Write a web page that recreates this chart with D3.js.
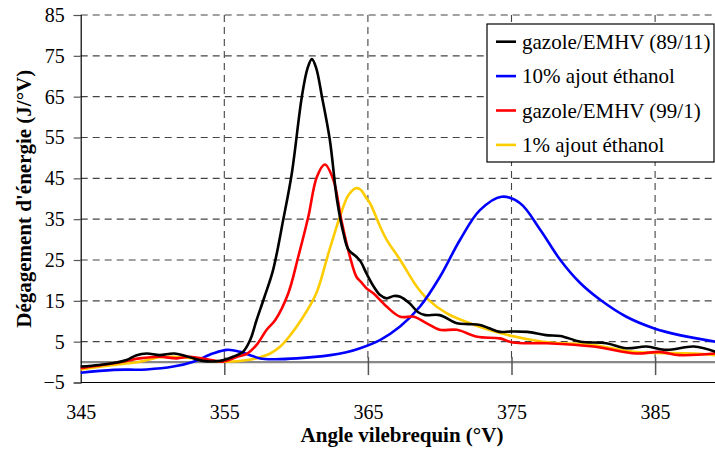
<!DOCTYPE html>
<html>
<head>
<meta charset="utf-8">
<script src="https://cdn.jsdelivr.net/npm/d3@7"></script>
<style>
  html, body { margin: 0; padding: 0; background: #fff; }
  svg { display: block; font-family: "Liberation Serif", "Times New Roman", serif; }
</style>
</head>
<body>
<svg id="chart" width="715" height="450"></svg>
<script>
// ---- Data ----
const seriesNames = ["gazole/EMHV (89/11)", "10% ajout éthanol", "gazole/EMHV (99/1)", "1% ajout éthanol"];
const seriesColors = ["#000000", "#0000FF", "#FF0000", "#FFCC00"];

const anglesBlack = [345, 346.3, 347.5, 348.2, 348.9, 349.6, 350.5, 351.5, 352.6, 353.5, 354.7, 355.6, 356.3, 356.8, 357.25, 357.8, 358.4, 359.1, 359.7, 360.4, 360.8, 361.1, 361.4, 361.8, 362.35, 362.85, 363.3, 363.65, 364.2, 364.5, 364.9, 365.4, 365.85, 366.3, 366.8, 367.25, 367.9, 368.5, 369.0, 370.0, 371.2, 372.0, 372.8, 373.5, 374.2, 375.0, 376.1, 377.4, 378.4, 379.8, 381.6, 383.0, 384.4, 385.8, 387.7, 389.2];
const valuesBlack = [-1.1, -0.7, -0.1, 0.5, 1.7, 2.1, 1.7, 2.1, 1.2, 0.3, 0.3, 1.3, 2.5, 5.4, 10.3, 16.0, 22.6, 34.8, 46.2, 65.0, 72.0, 74.2, 72.0, 65.0, 54.4, 39.7, 31.5, 27.5, 25.8, 24.6, 21.7, 18.5, 16.4, 15.6, 16.2, 16.0, 14.4, 12.2, 11.5, 11.5, 9.5, 9.3, 9.1, 8.2, 7.4, 7.5, 7.4, 6.6, 6.4, 5.0, 4.6, 3.4, 3.8, 3.0, 3.8, 2.5];

const anglesBlue = [345, 347.3, 349.6, 351.45, 352.85, 354.2, 355.2, 356.1, 356.8, 357.5, 358.4, 360.05, 362.4, 363.5, 364.46, 365.84, 367.24, 368.63, 370.02, 371.41, 372.8, 374.3, 375.6, 377.0, 378.4, 379.8, 381.2, 383.0, 384.9, 386.7, 389.2];
const valuesBlue = [-2.6, -1.9, -1.8, -1.1, 0.1, 2.1, 3.0, 2.5, 1.7, 0.9, 0.7, 0.9, 1.7, 2.4, 3.4, 5.4, 8.7, 13.6, 20.9, 29.9, 37.2, 40.5, 38.9, 32.4, 25.0, 19.3, 15.2, 11.1, 8.3, 6.6, 5.0];

const anglesRed = [345, 346.3, 347.3, 348.2, 349.1, 350.5, 351.7, 352.6, 353.8, 354.9, 355.9, 356.6, 357.25, 357.95, 358.55, 359.45, 360.15, 360.85, 361.45, 362.0, 362.6, 363.15, 363.75, 364.2, 364.5, 364.9, 365.4, 365.85, 366.3, 367.25, 368.2, 369.1, 370.0, 371.2, 372.6, 374.2, 375.1, 377.45, 380.7, 383.7, 385.3, 386.7, 389.2];
const valuesRed = [-1.5, -0.8, -0.3, 0.3, 0.9, 1.3, 0.9, 1.3, 0.7, 0.1, 1.3, 2.1, 4.2, 7.9, 10.3, 16.8, 25.8, 35.6, 45.4, 48.4, 44.6, 34.8, 25.8, 20.9, 19.7, 18.1, 16.8, 15.2, 13.6, 11.1, 11.1, 9.5, 7.9, 7.9, 6.2, 5.8, 4.8, 4.6, 3.8, 2.1, 2.5, 1.7, 2.1];

const anglesYellow = [345, 347.3, 349.1, 350.5, 351.45, 352.85, 354.0, 355.2, 356.6, 357.5, 358.2, 358.9, 359.6, 360.35, 361.4, 362.25, 363.05, 363.65, 364.2, 364.5, 364.9, 365.15, 365.85, 366.3, 367.25, 368.4, 369.1, 370.5, 372.1, 374.2, 377.2, 380.7, 383.5, 387.7, 389.2];
const valuesYellow = [-1.8, -0.7, 0.1, 1.2, 1.3, 0.9, 0.3, 0.1, 0.5, 1.2, 2.1, 3.8, 6.6, 10.3, 16.8, 26.6, 35.6, 40.9, 42.6, 42.2, 40.1, 38.9, 33.2, 30.0, 25.0, 18.5, 15.6, 11.9, 9.5, 7.1, 5.0, 4.2, 2.5, 2.1, 1.7];

const xTickValues = [345, 355, 365, 375, 385];
const yTickValues = [-5, 5, 15, 25, 35, 45, 55, 65, 75, 85];
const xTitle = "Angle vilebrequin (°V)";
const yTitle = "Dégagement d'énergie (J/°V)";

const seriesData = [
  { name: seriesNames[0], color: seriesColors[0], x: anglesBlack, y: valuesBlack },
  { name: seriesNames[1], color: seriesColors[1], x: anglesBlue, y: valuesBlue },
  { name: seriesNames[2], color: seriesColors[2], x: anglesRed, y: valuesRed },
  { name: seriesNames[3], color: seriesColors[3], x: anglesYellow, y: valuesYellow }
];

// ---- Layout ----
const svg = d3.select("#chart");
const plotLeft = 80.7, plotTop = 15, plotBottom = 382.5, plotEnd = 715;
const x = d3.scaleLinear().domain([345, 390]).range([plotLeft, plotLeft + 45 * 14.36]);
const y = d3.scaleLinear().domain([-5, 85]).range([plotBottom, plotTop]);

// gridlines (horizontal)
svg.append("g").selectAll("line").data(yTickValues.filter(v => v > -5))
  .join("line")
  .attr("x1", plotLeft).attr("x2", plotEnd)
  .attr("y1", d => y(d)).attr("y2", d => y(d))
  .attr("stroke", "#444").attr("stroke-width", 1.1)
  .attr("stroke-dasharray", "7,5");

// gridlines (vertical)
svg.append("g").selectAll("line").data(xTickValues.filter(v => v > 345))
  .join("line")
  .attr("x1", d => x(d)).attr("x2", d => x(d))
  .attr("y1", plotTop).attr("y2", y(0))
  .attr("stroke", "#444").attr("stroke-width", 1.1)
  .attr("stroke-dasharray", "7,5");

// bottom border
svg.append("line").attr("x1", plotLeft).attr("x2", plotEnd).attr("y1", plotBottom).attr("y2", plotBottom)
  .attr("stroke", "#000").attr("stroke-width", 1.2);

// zero line
svg.append("line").attr("x1", plotLeft).attr("x2", plotEnd).attr("y1", y(0)).attr("y2", y(0))
  .attr("stroke", "#888").attr("stroke-width", 2.4);

// x axis ticks at zero line, labels at the bottom
const xAxis = d3.axisBottom(x).tickValues(xTickValues).tickSize(13).tickPadding(0).tickFormat(d3.format("d"));
const gx = svg.append("g").attr("transform", `translate(0,${y(0)})`).call(xAxis);
gx.select(".domain").remove();
gx.selectAll(".tick line").attr("y1", -5).attr("stroke", "#555").attr("stroke-width", 1.5);
gx.selectAll(".tick").filter(d => d === 345).select("line").remove();
gx.selectAll(".tick text").attr("y", 43).attr("dy", "0.71em")
  .attr("font-size", 20).attr("font-family", "'Liberation Serif', serif").attr("fill", "#000");

// y axis
const yAxis = d3.axisLeft(y).tickValues(yTickValues).tickSize(7).tickPadding(9).tickFormat(d3.format("d"));
const gy = svg.append("g").attr("transform", `translate(${plotLeft},0)`).call(yAxis);
gy.select(".domain").attr("stroke", "#000").attr("stroke-width", 1.2);
gy.selectAll(".tick line").attr("stroke", "#555").attr("stroke-width", 1.2);
gy.selectAll(".tick text").attr("font-size", 20).attr("font-family", "'Liberation Serif', serif").attr("fill", "#000");

// lines
const line = d3.line().curve(d3.curveCatmullRom.alpha(0.5))
  .x(d => x(d[0])).y(d => y(d[1]));
const drawOrder = [3, 1, 2, 0];
svg.append("g").selectAll("path").data(drawOrder.map(i => seriesData[i]))
  .join("path")
  .attr("d", s => line(s.x.map((a, i) => [a, s.y[i]])))
  .attr("fill", "none")
  .attr("stroke", s => s.color)
  .attr("stroke-width", 2.6)
  .attr("stroke-linejoin", "round");

// axis titles
svg.append("text").attr("x", 402).attr("y", 442).attr("text-anchor", "middle")
  .attr("font-size", 21).attr("font-weight", "bold").text(xTitle);
svg.append("text").attr("transform", `translate(31,${(plotTop + plotBottom) / 2}) rotate(-90)`)
  .attr("text-anchor", "middle").attr("font-size", 21).attr("font-weight", "bold").text(yTitle);

// legend
const lg = svg.append("g");
lg.append("rect").attr("x", 487).attr("y", 24).attr("width", 227).attr("height", 138)
  .attr("fill", "#fff").attr("stroke", "#000").attr("stroke-width", 1.2);
const items = lg.selectAll("g.item").data(seriesData).join("g").attr("class", "item")
  .attr("transform", (d, i) => `translate(0,${41.7 + i * 34.4})`);
items.append("line").attr("x1", 496).attr("x2", 516).attr("y1", 0).attr("y2", 0)
  .attr("stroke", d => d.color).attr("stroke-width", 2.6);
items.append("text").attr("x", 522).attr("y", 7).attr("font-size", 21).text(d => d.name);
</script>
</body>
</html>
